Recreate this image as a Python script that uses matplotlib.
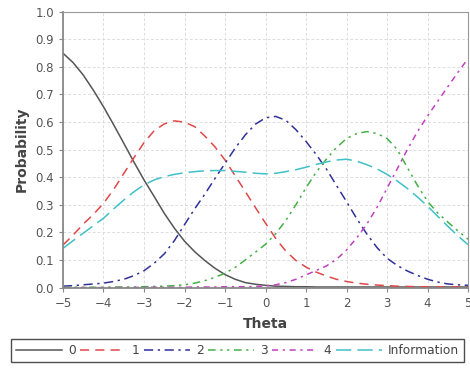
import numpy as np
import matplotlib.pyplot as plt

# Theta grid (0.25 steps) and curve values
theta = np.arange(-5, 5.01, 0.25)

cat0 = [0.849, 0.815, 0.77, 0.715, 0.655, 0.59, 0.523, 0.455, 0.39, 0.33, 0.269,
        0.215, 0.168, 0.13, 0.098, 0.07, 0.047, 0.03, 0.018, 0.012, 0.008,
        0.005, 0.004, 0.003, 0.003, 0.002, 0.002, 0.002, 0.002, 0.002, 0.002,
        0.002, 0.002, 0.002, 0.002, 0.002, 0.002, 0.002, 0.002, 0.002, 0.002]
cat1 = [0.154, 0.19, 0.23, 0.265, 0.305, 0.355, 0.413, 0.47, 0.525, 0.568, 0.593,
        0.604, 0.599, 0.583, 0.549, 0.51, 0.462, 0.405, 0.348, 0.29, 0.233,
        0.178, 0.132, 0.098, 0.074, 0.056, 0.042, 0.03, 0.022, 0.016, 0.012,
        0.009, 0.007, 0.005, 0.004, 0.003, 0.003, 0.002, 0.002, 0.002, 0.002]
cat2 = [0.005, 0.007, 0.01, 0.013, 0.016, 0.022, 0.03, 0.043, 0.061, 0.088, 0.122,
        0.17, 0.228, 0.285, 0.338, 0.395, 0.45, 0.505, 0.553, 0.592, 0.615,
        0.62, 0.606, 0.572, 0.529, 0.482, 0.43, 0.37, 0.311, 0.25, 0.194,
        0.145, 0.106, 0.08, 0.06, 0.044, 0.03, 0.02, 0.013, 0.01, 0.008]
cat3 = [0.001, 0.001, 0.001, 0.001, 0.001, 0.002, 0.002, 0.002, 0.003, 0.004, 0.005,
        0.007, 0.01, 0.016, 0.025, 0.037, 0.052, 0.073, 0.10, 0.128, 0.157,
        0.195, 0.243, 0.30, 0.362, 0.418, 0.465, 0.507, 0.54, 0.558, 0.565,
        0.558, 0.54, 0.5, 0.435, 0.37, 0.312, 0.27, 0.237, 0.205, 0.175]
cat4 = [0.0, 0.0, 0.0, 0.0, 0.0, 0.0, 0.0, 0.0, 0.001, 0.001, 0.001,
        0.001, 0.001, 0.002, 0.002, 0.002, 0.003, 0.003, 0.003, 0.004, 0.006,
        0.01, 0.018, 0.03, 0.046, 0.062, 0.078, 0.102, 0.136, 0.18, 0.23,
        0.29, 0.36, 0.43, 0.50, 0.565, 0.622, 0.675, 0.728, 0.78, 0.83]
info = [0.142, 0.17, 0.197, 0.224, 0.251, 0.285, 0.317, 0.347, 0.372, 0.39, 0.402,
        0.41, 0.416, 0.42, 0.423, 0.424, 0.424, 0.421, 0.418, 0.414, 0.412,
        0.414, 0.42, 0.427, 0.436, 0.446, 0.455, 0.462, 0.465, 0.458, 0.445,
        0.43, 0.41, 0.386, 0.359, 0.328, 0.295, 0.258, 0.222, 0.187, 0.155]

labels = ['0', '1', '2', '3', '4', 'Information']

fig = plt.figure(figsize=(4.7, 3.72), dpi=100)
ax = fig.add_axes([0.134, 0.227, 0.862, 0.742])

ax.plot(theta, cat0, color='#555555', lw=1.1, label=labels[0])
ax.plot(theta, cat1, color='#e04848', lw=1.1, dashes=(6, 4), label=labels[1])
ax.plot(theta, cat2, color='#30309a', lw=1.1, dashes=(6, 3, 1.5, 3), label=labels[2])
ax.plot(theta, cat3, color='#44b044', lw=1.1, dashes=(5, 3, 1.5, 3, 1.5, 3), label=labels[3])
ax.plot(theta, cat4, color='#c040c0', lw=1.1, dashes=(4, 3, 1.5, 3), label=labels[4])
ax.plot(theta, info, color='#40c0c8', lw=1.1, dashes=(10, 4), label=labels[5])

ax.set_xlim(-5, 5)
ax.set_ylim(0, 1)
ax.set_xticks(np.arange(-5, 6, 1))
ax.set_yticks(np.arange(0, 1.01, 0.1))
ax.set_yticklabels(['%.1f' % v for v in np.arange(0, 1.01, 0.1)])
ax.grid(True, color='#dddddd', ls=(0, (3, 2)), lw=0.7)
ax.tick_params(labelsize=8.5, length=3, width=0.8, colors='#888888', labelcolor='#555555')
for side in ['left', 'bottom']:
    ax.spines[side].set_color('#888888')
    ax.spines[side].set_linewidth(1.3)
for side in ['top', 'right']:
    ax.spines[side].set_color('#999999')
    ax.spines[side].set_linewidth(0.8)

ax.set_xlabel('Theta', fontsize=10, fontweight='bold', color='#444444', labelpad=5)
ax.set_ylabel('Probability', fontsize=10, fontweight='bold', color='#444444', labelpad=5)

leg = fig.legend(loc='lower center', bbox_to_anchor=(0.505, 0.011), ncol=6,
                 fontsize=8.8, frameon=True, fancybox=False, handlelength=3.8,
                 handletextpad=0.45, columnspacing=0.35, borderpad=0.4,
                 labelcolor='#444444')
leg.get_frame().set_edgecolor('#222222')
leg.get_frame().set_linewidth(1.0)

fig.savefig('out.png', dpi=100)
